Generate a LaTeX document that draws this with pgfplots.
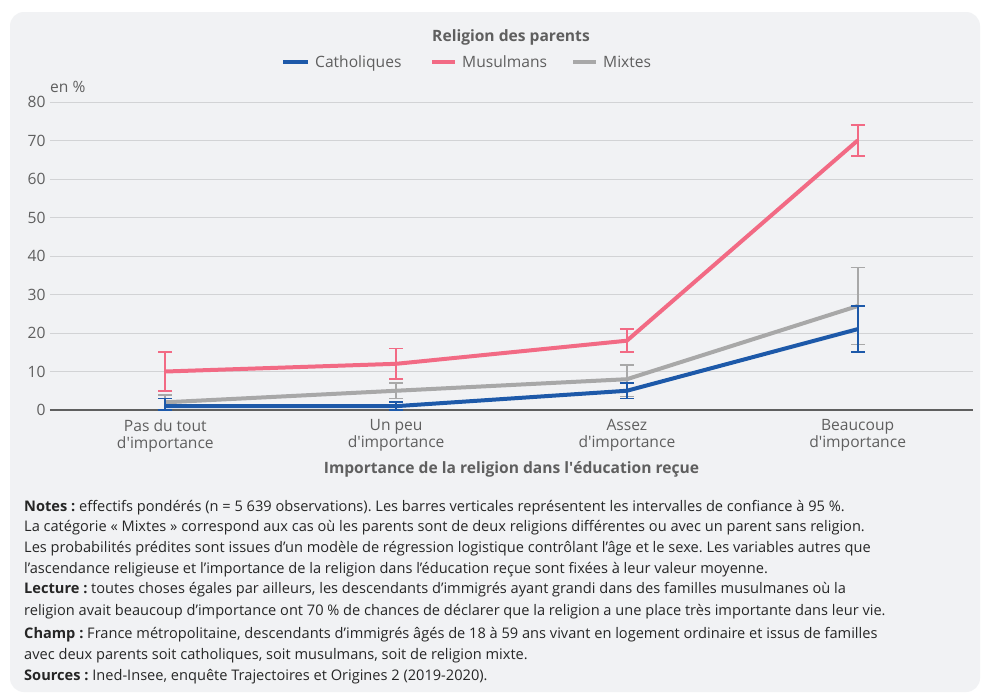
\documentclass[border=0pt]{standalone}
\usepackage{fontspec}
\setmainfont{Open Sans}
\usepackage{pgfplots}
\pgfplotsset{compat=1.18}

\definecolor{panel}{HTML}{F1F2F4}
\definecolor{catho}{HTML}{1D59A9}
\definecolor{musul}{HTML}{F26A84}
\definecolor{mixte}{HTML}{A8A8A8}
\definecolor{gridc}{HTML}{D2D3D5}
\definecolor{lab}{HTML}{5F5F5F}
\definecolor{note}{HTML}{262626}

\newcommand{\fs}{\fontsize{15.6}{17}\selectfont}
\newcommand{\fn}{\fontsize{14.6}{17}\selectfont}
\newcommand{\ap}{\textquotesingle}
\frenchspacing

\begin{document}
\begin{tikzpicture}[x=1pt,y=1pt]
% page and panel
\fill[white] (0,0) rectangle (983,-696);
\fill[panel, rounded corners=14pt] (10,-12) rectangle (980,-692);

\begin{axis}[
    at={(50pt,-410pt)}, anchor=south west,
    scale only axis, width=923pt, height=308pt,
    xmin=-0.5, xmax=3.5, ymin=0, ymax=80,
    axis x line=bottom, axis y line=left,
    x axis line style={draw=lab, line width=1.5pt, -},
    y axis line style={draw=none},
    xtick={0,1,2,3},
    xticklabels={{Pas du tout\\d\ap importance},{Un peu\\d\ap importance},{Assez\\d\ap importance},{Beaucoup\\d\ap importance}},
    ytick={0,10,...,80},
    major tick length=0pt,
    ymajorgrids, grid style={gridc, line width=1pt},
    tick label style={font=\fs, text=lab},
    xticklabel style={align=center, yshift=-6pt},
    yticklabel style={xshift=-1pt},
    /pgf/number format/assume math mode=true,
    xlabel={\bfseries Importance de la religion dans l\ap éducation reçue},
    x label style={font=\fs, text=lab, at={(axis description cs:0.5,0)}, anchor=center, yshift=-59pt},
    clip=false,
    every axis plot/.append style={line width=4pt, line join=round, mark=none},
    error bars/y dir=both, error bars/y explicit,
]
\addplot[mixte, error bars/error bar style={line width=1.8pt, mixte},
    error bars/error mark options={rotate=90, mark size=7pt, line width=1.8pt, mixte}]
  coordinates {(0,2) += (0,2) -= (0,2) (1,5) += (0,2) -= (0,2)
               (2,8) += (0,3.7) -= (0,4.5) (3,27) += (0,10) -= (0,10)};
\addplot[musul, error bars/error bar style={line width=1.8pt, musul},
    error bars/error mark options={rotate=90, mark size=7pt, line width=1.8pt, musul}]
  coordinates {(0,10) += (0,5) -= (0,5) (1,12) += (0,4) -= (0,4)
               (2,18) += (0,3) -= (0,3) (3,70) += (0,4) -= (0,4)};
\addplot[catho, error bars/error bar style={line width=1.8pt, catho},
    error bars/error mark options={rotate=90, mark size=7pt, line width=1.8pt, catho}]
  coordinates {(0,1) += (0,2) -= (0,1) (1,1) += (0,1) -= (0,1)
               (2,5) += (0,2) -= (0,2) (3,21) += (0,6) -= (0,6)};
\end{axis}

% y unit
\node[anchor=base west, font=\fs, text=lab, inner sep=0pt] at (50,-92) {en \%};

% legend
\node[anchor=base, font=\fs\bfseries, text=lab, inner sep=0pt] at (511,-41) {Religion des parents};
\draw[catho, line width=4pt] (283,-62) -- (308,-62);
\node[anchor=base west, font=\fs, text=lab, inner sep=0pt] at (315,-67) {Catholiques};
\draw[musul, line width=4pt] (432,-62) -- (455,-62);
\node[anchor=base west, font=\fs, text=lab, inner sep=0pt] at (462,-67) {Musulmans};
\draw[mixte, line width=4pt] (573,-62) -- (596,-62);
\node[anchor=base west, font=\fs, text=lab, inner sep=0pt] at (603,-67) {Mixtes};

% notes
\begin{scope}[every node/.style={anchor=base west, font=\fn, text=note, inner sep=0pt}]
\node at (24,-511) {\textbf{Notes :} effectifs pondérés (n = 5 639 observations). Les barres verticales représentent les intervalles de confiance à 95 \%.};
\node at (24,-531) {La catégorie « Mixtes » correspond aux cas où les parents sont de deux religions différentes ou avec un parent sans religion.};
\node at (24,-552) {Les probabilités prédites sont issues d’un modèle de régression logistique contrôlant l’âge et le sexe. Les variables autres que};
\node at (24,-573) {l’ascendance religieuse et l’importance de la religion dans l’éducation reçue sont fixées à leur valeur moyenne.};
\node at (24,-593) {\textbf{Lecture :} toutes choses égales par ailleurs, les descendants d’immigrés ayant grandi dans des familles musulmanes où la};
\node at (24,-615) {religion avait beaucoup d’importance ont 70 \% de chances de déclarer que la religion a une place très importante dans leur vie.};
\node at (24,-638) {\textbf{Champ :} France métropolitaine, descendants d’immigrés âgés de 18 à 59 ans vivant en logement ordinaire et issus de familles};
\node at (24,-659) {avec deux parents soit catholiques, soit musulmans, soit de religion mixte.};
\node at (24,-680) {\textbf{Sources :} Ined-Insee, enquête Trajectoires et Origines 2 (2019-2020).};
\end{scope}
\end{tikzpicture}
\end{document}
